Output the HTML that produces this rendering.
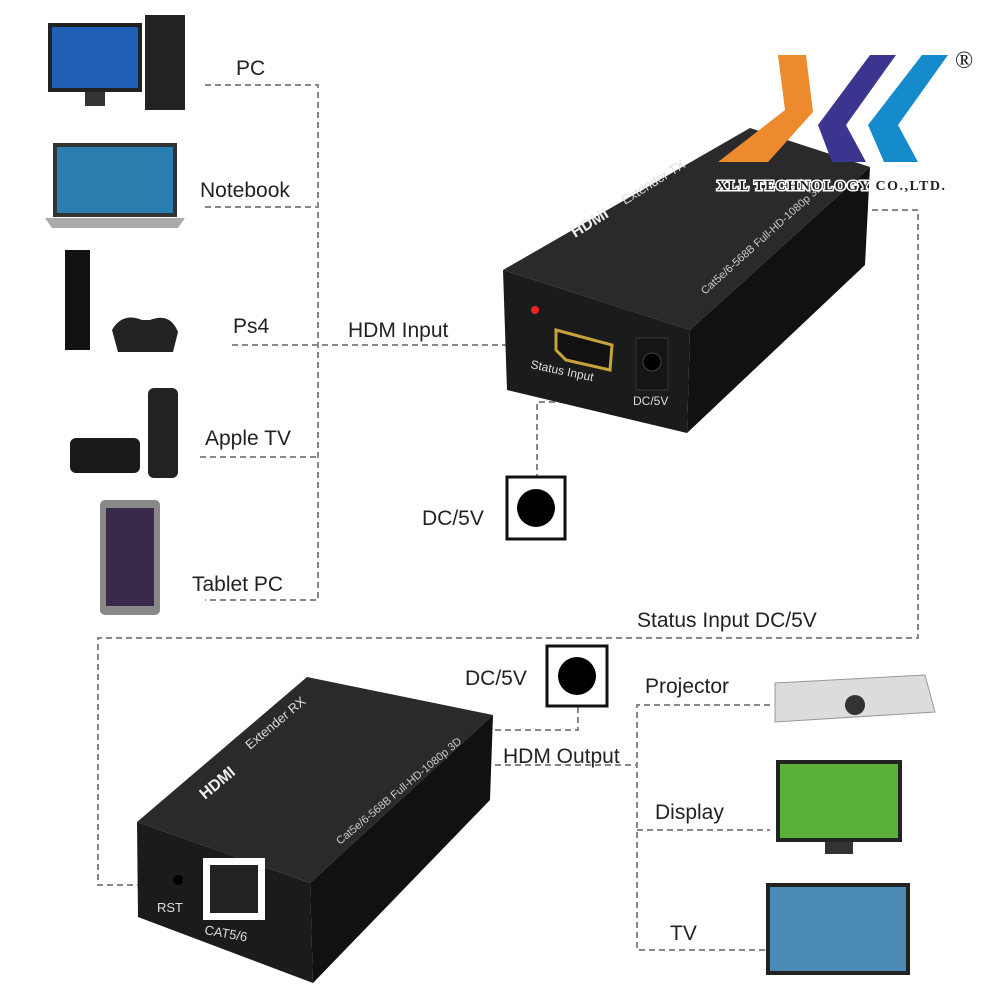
<!DOCTYPE html>
<html><head><meta charset="utf-8"><style>
html,body{margin:0;padding:0;background:#fff;}
svg{display:block;}
text{font-family:"Liberation Sans",sans-serif;}
</style></head><body>
<svg width="1000" height="1000" viewBox="0 0 1000 1000" xmlns="http://www.w3.org/2000/svg">
<rect width="1000" height="1000" fill="#fff"/>
<g stroke="#888" stroke-width="2" stroke-dasharray="6,4" fill="none">
<path d="M205 85H318V600H205"/>
<path d="M205 207H318"/>
<path d="M232 345H555"/>
<path d="M200 457H318"/>
<path d="M615 402H537V477"/>
<path d="M862 210H918V638H98V885H205"/>
<path d="M578 707V730H495"/>
<path d="M495 765H637"/>
<path d="M770 705H637V950H770"/>
<path d="M637 830H770"/>
</g>
<g fill="#222" font-size="21">
<text x="236" y="75">PC</text>
<text x="200" y="197">Notebook</text>
<text x="233" y="333">Ps4</text>
<text x="348" y="337">HDM  Input</text>
<text x="205" y="445">Apple TV</text>
<text x="192" y="591">Tablet  PC</text>
<text x="422" y="525">DC/5V</text>
<text x="637" y="627">Status Input DC/5V</text>
<text x="465" y="685">DC/5V</text>
<text x="645" y="693">Projector</text>
<text x="503" y="763">HDM  Output</text>
<text x="655" y="819">Display</text>
<text x="670" y="940">TV</text>
</g>
<rect x="507" y="477" width="58" height="62" fill="#fff" stroke="#111" stroke-width="3"/>
<circle cx="536" cy="508" r="19" fill="#000"/>
<rect x="547" y="646" width="60" height="60" fill="#fff" stroke="#111" stroke-width="3"/>
<circle cx="577" cy="676" r="19" fill="#000"/>
<!-- TX box -->
<polygon points="503,270 750,128 870,167 690,330" fill="#2a2a2c"/>
<polygon points="503,270 690,330 687,433 507,390" fill="#1b1b1c"/>
<polygon points="690,330 870,167 865,265 687,433" fill="#111112"/>
<circle cx="535" cy="310" r="4" fill="#e22"/>
<polygon points="556,330 612,345 610,370 566,360 556,350" fill="#111" stroke="#c8a23a" stroke-width="3"/>
<rect x="636" y="338" width="32" height="52" fill="#151515" stroke="#333"/>
<circle cx="652" cy="362" r="9" fill="#000" stroke="#444"/>
<text x="530" y="368" font-size="12" fill="#ddd" transform="rotate(12 530 368)">Status Input</text>
<text x="633" y="405" font-size="12" fill="#ddd">DC/5V</text>
<text x="575" y="238" font-size="16" font-weight="bold" fill="#eee" transform="rotate(-32 575 238)">HDMI</text>
<text x="625" y="205" font-size="13" fill="#ddd" transform="rotate(-32 625 205)">Extender TX</text>
<text x="705" y="295" font-size="11" fill="#ccc" transform="rotate(-42 705 295)">Cat5e/6-568B Full-HD-1080p 3D</text>
<!-- logo -->
<polygon points="778,55 806,55 813,112 768,162 718,162 785,110" fill="#ee8a2e"/>
<polygon points="870,55 896,55 846,125 866,162 832,162 818,125" fill="#3c3590"/>
<polygon points="922,55 948,55 898,125 918,162 884,162 868,125" fill="#168bcc"/>
<text x="955" y="68" style="font-family:'Liberation Serif',serif;font-size:24px" fill="#111">®</text>
<text x="717" y="190" style="font-family:'Liberation Serif',serif;font-size:14px;font-weight:bold;paint-order:stroke" stroke="#fff" stroke-width="3" fill="#222" textLength="228">XLL TECHNOLOGY CO.,LTD.</text>
<!-- RX box -->
<polygon points="137,822 307,677 493,715 310,883" fill="#2a2a2c"/>
<polygon points="137,822 310,883 313,983 138,917" fill="#1b1b1c"/>
<polygon points="310,883 493,715 490,800 313,983" fill="#111112"/>
<rect x="203" y="858" width="62" height="62" fill="#fff"/>
<rect x="210" y="865" width="48" height="48" fill="#222"/>
<circle cx="178" cy="880" r="5" fill="#000"/>
<text x="157" y="912" font-size="13" fill="#ddd">RST</text>
<text x="204" y="934" font-size="13" fill="#ddd" transform="rotate(10 204 934)">CAT5/6</text>
<text x="205" y="800" font-size="16" font-weight="bold" fill="#eee" transform="rotate(-40 205 800)">HDMI</text>
<text x="250" y="750" font-size="13" fill="#ddd" transform="rotate(-40 250 750)">Extender RX</text>
<text x="340" y="845" font-size="11" fill="#ccc" transform="rotate(-40 340 845)">Cat5e/6-568B Full-HD-1080p 3D</text>
<!-- left devices -->
<rect x="50" y="25" width="90" height="65" fill="#1f5fb5" stroke="#222" stroke-width="4"/>
<rect x="85" y="92" width="20" height="14" fill="#333"/>
<rect x="145" y="15" width="40" height="95" fill="#222"/>
<rect x="55" y="145" width="120" height="70" fill="#2a7fb0" stroke="#333" stroke-width="4"/>
<polygon points="45,218 185,218 178,228 52,228" fill="#aaa"/>
<polygon points="65,250 90,250 90,350 65,350" fill="#111"/>
<path d="M112 330 q10 -18 30 -10 h8 q20 -8 28 12 l-5 20 h-55 z" fill="#222"/>
<rect x="70" y="438" width="70" height="35" rx="6" fill="#1a1a1a"/>
<rect x="148" y="388" width="30" height="90" rx="6" fill="#222"/>
<rect x="100" y="500" width="60" height="115" rx="5" fill="#888"/>
<rect x="106" y="508" width="48" height="98" fill="#3a2a4a"/>
<!-- right devices -->
<polygon points="775,683 925,675 935,712 775,722" fill="#dcdcdc" stroke="#999"/>
<circle cx="855" cy="705" r="10" fill="#333"/>
<rect x="778" y="762" width="122" height="78" fill="#5bb03a" stroke="#222" stroke-width="4"/>
<rect x="825" y="842" width="28" height="12" fill="#333"/>
<rect x="768" y="885" width="140" height="88" fill="#4b8ab5" stroke="#222" stroke-width="4"/>
</svg>
</body></html>
